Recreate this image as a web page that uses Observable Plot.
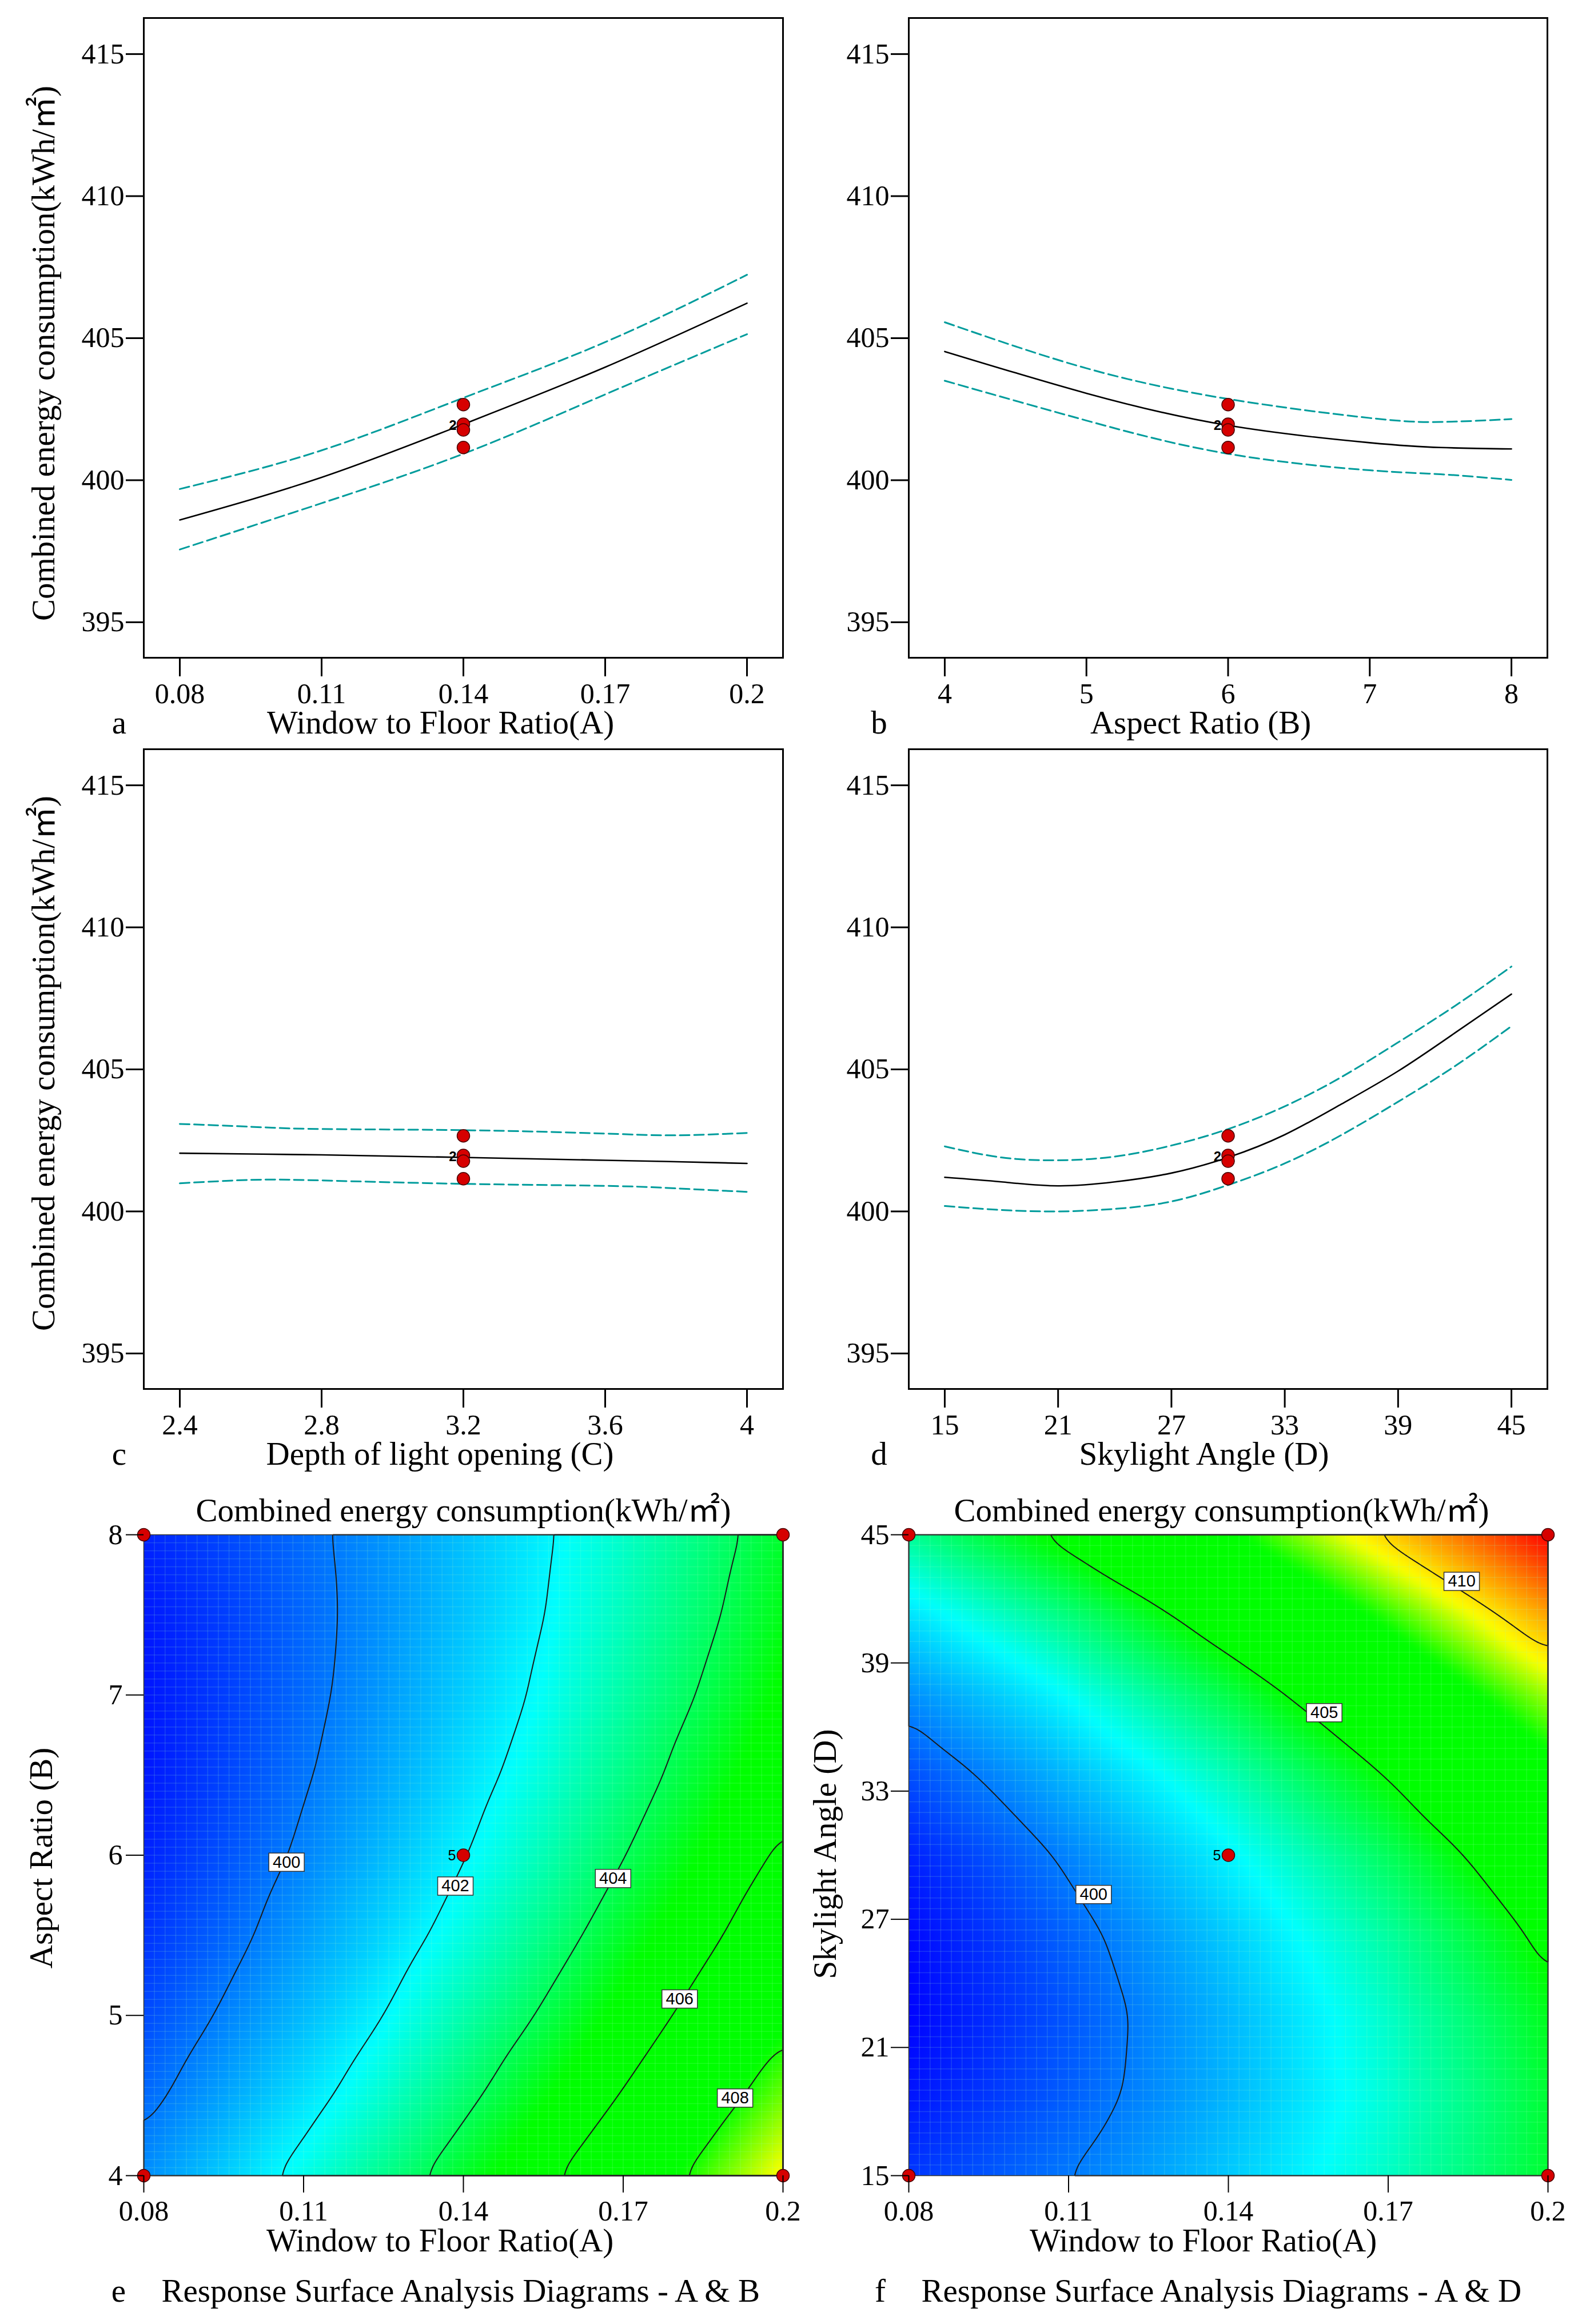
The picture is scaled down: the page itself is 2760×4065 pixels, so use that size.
<!DOCTYPE html>
<html><head><meta charset="utf-8">
<script src="https://cdn.jsdelivr.net/npm/d3@7"></script>
<script src="https://cdn.jsdelivr.net/npm/@observablehq/plot@0.6"></script>
<style>
html,body{margin:0;padding:0;background:#fff;}
#page{position:relative;width:2760px;height:4065px;overflow:hidden;background:#fff;}
.panel{position:absolute;}
.panel svg{overflow:visible;display:block;}
</style></head><body><div id="page"></div>
<script>
// ---------- shared ----------
const yLabel = "Combined energy consumption(kWh/㎡)";
const surfaceTitle = "Combined energy consumption(kWh/㎡)";
const energyTicks = [395, 400, 405, 410, 415];
const designY = [402.66, 401.97, 401.77, 401.15];
const designLabel = ["", "2", "", ""];

// ---------- panel a : Window to Floor Ratio ----------
const aX = [0.08, 0.11, 0.14, 0.17, 0.2];
const aFit = [398.60, 400.10, 401.97, 403.98, 406.23];
const aUpper = [399.69, 401.05, 402.90, 404.86, 407.23];
const aLower = [397.56, 399.19, 400.93, 403.02, 405.14];
const aTicks = [0.08, 0.11, 0.14, 0.17, 0.2];

// ---------- panel b : Aspect Ratio ----------
const bX = [4, 5, 6, 7, 7.5, 8];
const bFit = [404.53, 403.06, 401.93, 401.32, 401.15, 401.10];
const bUpper = [405.56, 403.94, 402.86, 402.19, 402.05, 402.15];
const bLower = [403.50, 402.10, 400.93, 400.35, 400.21, 400.01];
const bTicks = [4, 5, 6, 7, 8];

// ---------- panel c : Depth of light opening ----------
const cX = [2.4, 2.6, 2.8, 3.2, 3.6, 3.8, 4];
const cFit = [402.05, 402.02, 401.99, 401.90, 401.80, 401.75, 401.69];
const cUpper = [403.08, 402.98, 402.90, 402.86, 402.74, 402.68, 402.76];
const cLower = [400.99, 401.11, 401.09, 400.97, 400.90, 400.81, 400.69];
const cTicks = [2.4, 2.8, 3.2, 3.6, 4];

// ---------- panel d : Skylight Angle ----------
const dX = [15, 18, 21, 24, 27, 30, 33, 36, 39, 42, 45];
const dFit = [401.20, 401.04, 400.90, 401.04, 401.35, 401.90, 402.70, 403.78, 404.94, 406.28, 407.65];
const dUpper = [402.29, 401.90, 401.80, 401.93, 402.32, 402.90, 403.70, 404.73, 405.95, 407.23, 408.62];
const dLower = [400.19, 400.05, 400.00, 400.09, 400.35, 400.93, 401.69, 402.69, 403.86, 405.11, 406.52];
const dTicks = [15, 21, 27, 33, 39, 45];

// ---------- panel e : surface A & B (rows = Aspect Ratio, cols = WFR) ----------
const eA = [0.08, 0.095, 0.11, 0.125, 0.14, 0.155, 0.17, 0.185, 0.2];
const eB = [4, 4.5, 5, 5.5, 6, 6.5, 7, 7.5, 8];
const eGrid = [
  [400.33, 401.30, 402.33, 403.41, 404.55, 405.75, 407.00, 408.31, 409.67],
  [399.73, 400.65, 401.62, 402.65, 403.73, 404.88, 406.07, 407.33, 408.64],
  [399.24, 400.11, 401.02, 402.00, 403.03, 404.12, 405.26, 406.46, 407.71],
  [398.87, 399.67, 400.54, 401.46, 402.43, 403.47, 404.56, 405.70, 406.90],
  [398.60, 399.35, 400.16, 401.03, 401.95, 402.93, 403.96, 405.05, 406.20],
  [398.44, 399.14, 399.90, 400.71, 401.58, 402.50, 403.48, 404.52, 405.61],
  [398.40, 399.04, 399.74, 400.50, 401.31, 402.18, 403.11, 404.09, 405.13],
  [398.46, 399.05, 399.70, 400.40, 401.16, 401.98, 402.85, 403.78, 404.76],
  [398.64, 399.18, 399.77, 400.42, 401.12, 401.88, 402.70, 403.57, 404.50]
];
const eContours = [400, 402, 404, 406, 408];
const eLabelX = [0.1068, 0.1385, 0.1681, 0.1806, 0.191];
const eLabelY = [5.956, 5.807, 5.855, 5.103, 4.484];
const eRunX = [0.08, 0.08, 0.2, 0.2, 0.14];
const eRunY = [4, 8, 4, 8, 6];
const eRunLabel = ["", "", "", "", "5"];
const eXTicks = [0.08, 0.11, 0.14, 0.17, 0.2];
const eYTicks = [4, 5, 6, 7, 8];

// ---------- panel f : surface A & D (rows = Skylight Angle, cols = WFR) ----------
const fA = [0.08, 0.095, 0.11, 0.125, 0.14, 0.155, 0.17, 0.185, 0.2];
const fD = [15, 18.75, 22.5, 26.25, 30, 33.75, 37.5, 41.25, 45];
const fGrid = [
  [398.95, 399.44, 399.99, 400.59, 401.25, 401.97, 402.74, 403.57, 404.45],
  [398.39, 398.95, 399.56, 400.23, 400.95, 401.73, 402.57, 403.46, 404.41],
  [398.14, 398.77, 399.44, 400.18, 400.97, 401.82, 402.72, 403.68, 404.69],
  [398.21, 398.90, 399.65, 400.45, 401.30, 402.21, 403.18, 404.21, 405.29],
  [398.60, 399.35, 400.16, 401.03, 401.95, 402.93, 403.96, 405.05, 406.20],
  [399.30, 400.12, 401.00, 401.93, 402.91, 403.96, 405.06, 406.21, 407.43],
  [400.32, 401.20, 402.14, 403.14, 404.19, 405.30, 406.47, 407.69, 408.97],
  [401.65, 402.60, 403.61, 404.67, 405.79, 406.96, 408.20, 409.48, 410.83],
  [403.30, 404.32, 405.39, 406.52, 407.70, 408.94, 410.24, 411.59, 413.00]
];
const fContours = [400, 405, 410];
const fLabelX = [0.1147, 0.158, 0.1838];
const fLabelY = [28.16, 36.67, 42.82];
const fRunX = [0.08, 0.08, 0.2, 0.2, 0.14];
const fRunY = [15, 45, 15, 45, 30];
const fRunLabel = ["", "", "", "", "5"];
const fXTicks = [0.08, 0.11, 0.14, 0.17, 0.2];
const fYTicks = [15, 21, 27, 33, 39, 45];

// colour ramp of the response surface
const colorStops = [398.1, 402.1, 405.0, 407.9, 409.6, 413.0];
const colorRange = ["#0000ff", "#00ffff", "#00ff00", "#00ff00", "#ffff00", "#ff0000"];

// ---------- styling ----------
const SERIF = "'Liberation Serif','Times New Roman','Noto Sans CJK SC',serif";
const SANS = "'Liberation Sans',Arial,sans-serif";
const TEAL = "#009c9c";
const POINT_FILL = "#d60000";
const POINT_STROKE = "#4a0000";
const MID = {textAnchor: "middle", lineAnchor: "middle"};

const page = document.getElementById("page");
function place(svg, left, top) {
  const div = document.createElement("div");
  div.className = "panel";
  div.style.left = left + "px";
  div.style.top = top + "px";
  div.appendChild(svg);
  page.appendChild(div);
}
const padded = (lo, hi) => [lo - (hi - lo) * 0.0635, hi + (hi - lo) * 0.0635];

function linePanel(p) {
  const rows = arr => p.xs.map((x, i) => ({x, y: arr[i]}));
  const pts = designY.map((y, i) => ({x: p.center, y, label: designLabel[i]}));
  const marks = [
    Plot.line(rows(p.upper), {x: "x", y: "y", stroke: TEAL, strokeWidth: 3, strokeDasharray: "17,8", curve: "natural"}),
    Plot.line(rows(p.lower), {x: "x", y: "y", stroke: TEAL, strokeWidth: 3, strokeDasharray: "17,8", curve: "natural"}),
    Plot.line(rows(p.fit), {x: "x", y: "y", stroke: "#000", strokeWidth: 2.6, curve: "natural"}),
    Plot.dot(pts, {x: "x", y: "y", r: 11, fill: POINT_FILL, stroke: POINT_STROKE, strokeWidth: 1.5}),
    Plot.text(pts.filter(d => d.label), {x: "x", y: "y", text: "label", textAnchor: "end", lineAnchor: "middle", dx: -12, dy: 2,
      fontFamily: SANS, fontWeight: "bold", fontSize: 24, fill: "#000"}),
    Plot.frame({stroke: "#000", strokeWidth: 3}),
    Plot.axisX({ticks: p.xTicks, tickFormat: d => String(d), tickSize: 33, tickPadding: 11, strokeWidth: 3, fontSize: 50, label: null}),
    Plot.axisY({ticks: energyTicks, tickFormat: d => String(d), tickSize: 31, tickPadding: 3, strokeWidth: 3, fontSize: 50, label: null}),
    Plot.text([p.xLabel], {...MID, frameAnchor: "bottom", dx: p.xLabelDx, dy: 114, text: d => d, fontSize: 57}),
    Plot.text([p.letter], {...MID, frameAnchor: "bottom-left", dx: p.letterDx, dy: 114, text: d => d, fontSize: 57})
  ];
  if (p.showY) marks.push(Plot.text([yLabel], {...MID, frameAnchor: "left", rotate: -90, dx: -175, dy: p.yLabelDy, text: d => d, fontSize: 57}));
  return Plot.plot({
    width: p.width, height: 1300,
    marginLeft: p.marginLeft, marginRight: p.marginRight, marginTop: p.marginTop, marginBottom: 1300 - p.marginTop - 1119,
    style: {fontFamily: SERIF, fontSize: "50px", background: "transparent", color: "black"},
    x: {domain: p.xDomain},
    y: {domain: [393.75, 416.27]},
    marks
  });
}

function surfacePanel(p) {
  const data = [];
  p.ys.forEach((y, j) => p.xs.forEach((x, i) => data.push({x, y, v: p.grid[j][i]})));
  const labels = p.labelX.map((x, i) => ({x, y: p.labelY[i], t: String(p.contours[i])}));
  const runs = p.runX.map((x, i) => ({x, y: p.runY[i], label: p.runLabel[i]}));
  const xd = [p.xs[0], p.xs[p.xs.length - 1]];
  const yd = [p.ys[0], p.ys[p.ys.length - 1]];
  const box = {draw(ctx) { ctx.moveTo(-31, -16); ctx.lineTo(31, -16); ctx.lineTo(31, 16); ctx.lineTo(-31, 16); ctx.closePath(); }};
  return Plot.plot({
    width: p.width, height: 1485,
    marginLeft: p.marginLeft, marginRight: p.marginRight, marginTop: 104, marginBottom: 260,
    style: {fontFamily: SERIF, fontSize: "50px", background: "transparent", color: "black"},
    x: {domain: xd},
    y: {domain: yd},
    color: {type: "linear", domain: colorStops, range: colorRange, clamp: true},
    marks: [
      Plot.raster(data, {x: "x", y: "y", fill: "v", interpolate: "barycentric", x1: xd[0], x2: xd[1], y1: yd[0], y2: yd[1], pixelSize: 2, blur: 3}),
      Plot.gridX({ticks: 80, stroke: "#a0ffc0", strokeOpacity: 0.16, strokeWidth: 1.5}),
      Plot.gridY({ticks: 80, stroke: "#a0ffc0", strokeOpacity: 0.16, strokeWidth: 1.5}),
      Plot.contour(data, {x: "x", y: "y", value: "v", interpolate: "barycentric", thresholds: p.contours,
        x1: xd[0], x2: xd[1], y1: yd[0], y2: yd[1], pixelSize: 2, blur: 10, fill: "none", stroke: "#1a1a1a", strokeWidth: 2}),
      Plot.frame({stroke: "#333", strokeWidth: 1.5}),
      Plot.dot(labels, {x: "x", y: "y", symbol: box, r: 10, fill: "white", stroke: "#333", strokeWidth: 1.5}),
      Plot.text(labels, {...MID, x: "x", y: "y", text: "t", fontFamily: SANS, fontSize: 29, fill: "#000"}),
      Plot.dot(runs, {x: "x", y: "y", r: 11, fill: POINT_FILL, stroke: POINT_STROKE, strokeWidth: 1.5}),
      Plot.text(runs.filter(d => d.label), {x: "x", y: "y", text: "label", textAnchor: "end", lineAnchor: "middle", dx: -13, dy: 1, fontFamily: SANS, fontSize: 25, fill: "#000"}),
      Plot.axisX({ticks: p.xTicks, tickFormat: d => String(d), tickSize: 30, tickPadding: 13, strokeWidth: 2, fontSize: 50, label: null}),
      Plot.axisY({ticks: p.yTicks, tickFormat: d => String(d), tickSize: 31, tickPadding: p.yPad, strokeWidth: 2, fontSize: 50, label: null}),
      Plot.text([surfaceTitle], {...MID, frameAnchor: "top", dx: p.titleDx, dy: -42, text: d => d, fontSize: 57}),
      Plot.text([p.xLabel], {...MID, frameAnchor: "bottom", dx: p.xLabelDx, dy: 114, text: d => d, fontSize: 57}),
      Plot.text([p.yLabel], {...MID, frameAnchor: "left", rotate: -90, dx: p.yLabelDx, dy: p.yLabelDy, text: d => d, fontSize: 57}),
      Plot.text([p.letter], {...MID, frameAnchor: "bottom-left", dx: p.letterDx, dy: 202, text: d => d, fontSize: 57}),
      Plot.text([p.caption], {frameAnchor: "bottom-left", textAnchor: "start", lineAnchor: "middle", dx: p.captionDx, dy: 202, text: d => d, fontSize: 57})
    ]
  });
}

place(linePanel({xs: aX, fit: aFit, upper: aUpper, lower: aLower, xTicks: aTicks, xDomain: padded(0.08, 0.2), center: 0.14,
  xLabel: "Window to Floor Ratio(A)", letter: "a", showY: true, yLabelDy: 27, xLabelDx: -40, letterDx: -43,
  width: 1400, marginLeft: 251, marginRight: 31, marginTop: 31}), 0, 0);
place(linePanel({xs: bX, fit: bFit, upper: bUpper, lower: bLower, xTicks: bTicks, xDomain: padded(4, 8), center: 6,
  xLabel: "Aspect Ratio (B)", letter: "b", showY: false, xLabelDx: -48, letterDx: -52,
  width: 1360, marginLeft: 189, marginRight: 54, marginTop: 31}), 1400, 0);
place(linePanel({xs: cX, fit: cFit, upper: cUpper, lower: cLower, xTicks: cTicks, xDomain: padded(2.4, 4), center: 3.2,
  xLabel: "Depth of light opening (C)", letter: "c", showY: true, yLabelDy: -10, xLabelDx: -41, letterDx: -43,
  width: 1400, marginLeft: 251, marginRight: 31, marginTop: 30}), 0, 1280);
place(linePanel({xs: dX, fit: dFit, upper: dUpper, lower: dLower, xTicks: dTicks, xDomain: padded(15, 45), center: 30,
  xLabel: "Skylight Angle (D)", letter: "d", showY: false, xLabelDx: -42, letterDx: -52,
  width: 1360, marginLeft: 189, marginRight: 54, marginTop: 30}), 1400, 1280);

place(surfacePanel({xs: eA, ys: eB, grid: eGrid, contours: eContours, labelX: eLabelX, labelY: eLabelY,
  runX: eRunX, runY: eRunY, runLabel: eRunLabel, xTicks: eXTicks, yTicks: eYTicks, yPad: 6,
  xLabel: "Window to Floor Ratio(A)", yLabel: "Aspect Ratio (B)", letter: "e",
  caption: "Response Surface Analysis Diagrams - A & B",
  titleDx: 0, xLabelDx: -41, yLabelDx: -179, yLabelDy: 5, letterDx: -44, captionDx: 31,
  width: 1400, marginLeft: 251, marginRight: 31}), 0, 2580);
place(surfacePanel({xs: fA, ys: fD, grid: fGrid, contours: fContours, labelX: fLabelX, labelY: fLabelY,
  runX: fRunX, runY: fRunY, runLabel: fRunLabel, xTicks: fXTicks, yTicks: fYTicks, yPad: 3,
  xLabel: "Window to Floor Ratio(A)", yLabel: "Skylight Angle (D)", letter: "f",
  caption: "Response Surface Analysis Diagrams - A & D",
  titleDx: -12, xLabelDx: -44, yLabelDx: -146, yLabelDy: -2, letterDx: -50, captionDx: 22,
  width: 1360, marginLeft: 189, marginRight: 53}), 1400, 2580);
</script></body></html>
